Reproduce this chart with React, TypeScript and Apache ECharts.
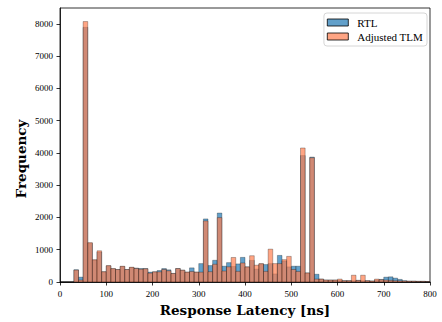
import React, { useEffect, useRef } from "react";
import * as echarts from "echarts";

const BIN_WIDTH = 10;
const binStarts = [
  0, 10, 20, 30, 40, 50, 60, 70, 80, 90,
  100, 110, 120, 130, 140, 150, 160, 170, 180, 190,
  200, 210, 220, 230, 240, 250, 260, 270, 280, 290,
  300, 310, 320, 330, 340, 350, 360, 370, 380, 390,
  400, 410, 420, 430, 440, 450, 460, 470, 480, 490,
  500, 510, 520, 530, 540, 550, 560, 570, 580, 590,
  600, 610, 620, 630, 640, 650, 660, 670, 680, 690,
  700, 710, 720, 730, 740, 750, 760, 770, 780, 790,
];
const rtlCounts = [
  0, 0, 0, 380, 150, 7890, 1200, 680, 930, 315,
  500, 410, 385, 480, 385, 450, 430, 417, 417, 305,
  315, 356, 417, 377, 265, 417, 366, 305, 438, 305,
  570, 1954, 509, 672, 2137, 489, 600, 480, 560, 763,
  468, 670, 400, 560, 540, 570, 250, 824, 650, 468,
  489, 489, 3918, 280, 3870, 240, 90, 61, 60, 60,
  50, 40, 40, 40, 50, 40, 40, 30, 60, 80,
  150, 160, 120, 80, 40, 25, 25, 20, 20, 15,
];
const tlmCounts = [
  0, 0, 0, 370, 60, 8070, 1220, 690, 967, 320,
  509, 417, 387, 489, 387, 458, 420, 397, 410, 275,
  315, 315, 387, 346, 265, 417, 366, 305, 326, 305,
  305, 1893, 320, 550, 1995, 340, 470, 760, 330, 590,
  468, 814, 520, 570, 330, 1018, 570, 570, 692, 794,
  387, 326, 4153, 280, 3850, 90, 90, 61, 60, 60,
  90, 40, 40, 210, 50, 210, 40, 30, 90, 70,
  60, 50, 40, 35, 30, 25, 25, 20, 20, 15,
];
const xTicks = [0, 100, 200, 300, 400, 500, 600, 700, 800];
const yTicks = [0, 1000, 2000, 3000, 4000, 5000, 6000, 7000, 8000];
const seriesNames = ["RTL", "Adjusted TLM"];

const BLUE = "rgba(31,119,180,0.7)";
const ORANGE = "rgba(255,127,80,0.7)";
const EDGE = "rgba(0,0,0,0.55)";

function histData(counts: number[]) {
  return binStarts.map((b, i) => [b, b + BIN_WIDTH, counts[i]]);
}

function makeRender(color: string) {
  return (params: any, api: any) => {
    const x0 = api.value(0);
    const x1 = api.value(1);
    const v = api.value(2);
    const p0 = api.coord([x0, v]);
    const p1 = api.coord([x1, 0]);
    return {
      type: "rect",
      shape: { x: p0[0], y: p0[1], width: p1[0] - p0[0], height: p1[1] - p0[1] },
      style: { fill: color, stroke: EDGE, lineWidth: 0.5 },
    };
  };
}

export default function App() {
  const ref = useRef<HTMLDivElement>(null);
  useEffect(() => {
    if (!ref.current) return;
    const chart = echarts.init(ref.current, null, { renderer: "svg" });
    const tickFont = { fontFamily: "Liberation Serif", fontSize: 9, color: "#000" };
    chart.setOption({
      animation: false,
      grid: {
        left: 60,
        right: 12,
        top: 8,
        bottom: 36,
        show: true,
        borderColor: "#000",
        borderWidth: 0.8,
        backgroundColor: "transparent",
      },
      legend: {
        data: seriesNames,
        orient: "vertical",
        right: 15,
        top: 13,
        icon: "rect",
        itemWidth: 21,
        itemHeight: 7,
        itemGap: 3,
        padding: [4, 4, 4, 3],
        backgroundColor: "rgba(255,255,255,0.8)",
        borderColor: "#cccccc",
        borderWidth: 0.8,
        borderRadius: 3,
        textStyle: { fontFamily: "Liberation Serif", fontSize: 11, color: "#000", padding: [0, 0, 0, 4] },
        itemStyle: { borderColor: "#000", borderWidth: 0.8 },
      },
      xAxis: {
        type: "value",
        min: 0,
        max: 800,
        interval: 100,
        name: "Response Latency [ns]",
        nameLocation: "middle",
        nameGap: 21,
        nameTextStyle: { fontFamily: "DejaVu Serif", fontWeight: "bold", fontSize: 13.5, color: "#000" },
        axisLine: { show: true, lineStyle: { color: "#000", width: 0.8 } },
        axisTick: { show: true, length: 3.5, lineStyle: { color: "#000", width: 0.8 }, customValues: xTicks },
        axisLabel: { ...tickFont, margin: 7, formatter: (v: number) => String(v), customValues: xTicks },
        splitLine: { show: false },
      },
      yAxis: {
        type: "value",
        min: 0,
        max: 8490,
        interval: 1000,
        axisLine: { show: true, lineStyle: { color: "#000", width: 0.8 } },
        axisTick: { show: true, length: 3.5, lineStyle: { color: "#000", width: 0.8 }, customValues: yTicks },
        axisLabel: { ...tickFont, margin: 7, formatter: (v: number) => String(v), customValues: yTicks },
        splitLine: { show: false },
      },
      graphic: [
        {
          type: "text",
          x: 21,
          y: 159,
          rotation: Math.PI / 2,
          style: {
            text: "Frequency",
            fontFamily: "DejaVu Serif",
            fontWeight: "bold",
            fontSize: 13.5,
            fill: "#000",
            align: "center",
            verticalAlign: "middle",
          },
        },
      ],
      series: [
        {
          name: seriesNames[0],
          type: "custom",
          renderItem: makeRender(BLUE),
          encode: { x: [0, 1], y: 2 },
          itemStyle: { color: BLUE },
          data: histData(rtlCounts),
          z: 2,
        },
        {
          name: seriesNames[1],
          type: "custom",
          renderItem: makeRender(ORANGE),
          encode: { x: [0, 1], y: 2 },
          itemStyle: { color: ORANGE },
          data: histData(tlmCounts),
          z: 3,
        },
      ],
    });
    return () => chart.dispose();
  }, []);
  return <div ref={ref} style={{ width: 442, height: 322, position: "absolute", left: 0, top: 0 }} />;
}
